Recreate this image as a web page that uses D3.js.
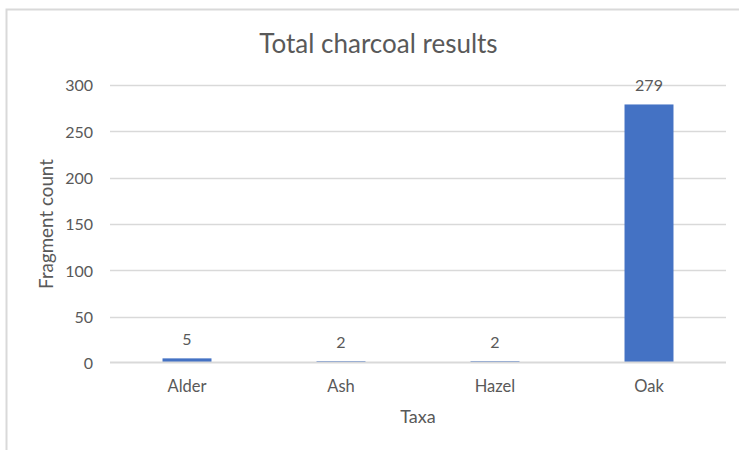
<!DOCTYPE html>
<html>
<head>
<meta charset="utf-8">
<script src="https://cdn.jsdelivr.net/npm/d3@7"></script>
<style>
  html, body { margin: 0; padding: 0; background: #fff; }
  svg { display: block; font-family: Lato, "Open Sans", sans-serif; }
</style>
</head>
<body>
<svg id="chart" width="739" height="450"></svg>
<script>
// Charcoal fragment counts by taxon
const taxa = ["Alder", "Ash", "Hazel", "Oak"];
const counts = [5, 2, 2, 279];
const yTicks = [0, 50, 100, 150, 200, 250, 300];

const svg = d3.select("#chart");
const textColor = "#595959";
const gridColor = "#d9d9d9";
const barColor = "#4472c4";

// chart frame
svg.append("rect")
  .attr("x", 6.5).attr("y", 9.5)
  .attr("width", 800).attr("height", 500)
  .attr("fill", "none").attr("stroke", gridColor).attr("stroke-width", 2);

const plot = { left: 110, right: 726, top: 85, bottom: 363 };

const x = d3.scaleBand()
  .domain(taxa)
  .range([plot.left, plot.right])
  .paddingInner(0.682)
  .paddingOuter(0.341);

const y = d3.scaleLinear()
  .domain([0, 300])
  .range([plot.bottom, plot.top]);

// horizontal gridlines (the zero line is drawn later, over the bars)
svg.append("g")
  .selectAll("line")
  .data(yTicks.filter(d => d !== 0))
  .join("line")
  .attr("x1", plot.left).attr("x2", plot.right)
  .attr("y1", d => Math.round(y(d)) + 0.5).attr("y2", d => Math.round(y(d)) + 0.5)
  .attr("stroke", gridColor).attr("stroke-width", 1.3);

// y tick labels
const yAxis = svg.append("g")
  .attr("transform", `translate(${plot.left - 17},0)`)
  .call(d3.axisLeft(y).tickValues(yTicks).tickSize(0).tickPadding(0));
yAxis.select(".domain").remove();
yAxis.selectAll("text")
  .attr("fill", textColor)
  .attr("font-size", 16)
  .attr("font-family", "Lato, sans-serif")
  .attr("dy", "0.36em");

// bars
svg.append("g")
  .selectAll("rect")
  .data(taxa)
  .join("rect")
  .attr("x", d => x(d))
  .attr("width", x.bandwidth())
  .attr("y", (d, i) => y(counts[i]))
  .attr("height", (d, i) => y(0) - y(counts[i]))
  .attr("fill", barColor);

// category axis line
svg.append("line")
  .attr("x1", plot.left).attr("x2", plot.right)
  .attr("y1", y(0) - 0.5).attr("y2", y(0) - 0.5)
  .attr("stroke", gridColor).attr("stroke-width", 2);

// value labels
svg.append("g")
  .selectAll("text")
  .data(taxa)
  .join("text")
  .attr("x", d => x(d) + x.bandwidth() / 2)
  .attr("y", (d, i) => y(counts[i]) - 13)
  .attr("text-anchor", "middle")
  .attr("fill", textColor)
  .attr("font-size", 16)
  .text((d, i) => counts[i]);

// x category labels
const xAxis = svg.append("g")
  .attr("transform", `translate(0,${plot.bottom})`)
  .call(d3.axisBottom(x).tickSize(0).tickPadding(0));
xAxis.select(".domain").remove();
xAxis.selectAll("text")
  .attr("fill", textColor)
  .attr("font-size", 16.5)
  .attr("font-family", "Lato, sans-serif")
  .attr("dy", null)
  .attr("y", 29);

// axis titles
svg.append("text")
  .attr("x", (plot.left + plot.right) / 2)
  .attr("y", 423)
  .attr("text-anchor", "middle")
  .attr("fill", textColor)
  .attr("font-size", 18)
  .text("Taxa");

svg.append("text")
  .attr("transform", `translate(53,${(plot.top + plot.bottom) / 2}) rotate(-90)`)
  .attr("text-anchor", "middle")
  .attr("fill", textColor)
  .attr("font-size", 18.8)
  .text("Fragment count");

// chart title
svg.append("text")
  .attr("x", 378.5)
  .attr("y", 52.5)
  .attr("text-anchor", "middle")
  .attr("fill", textColor)
  .attr("font-size", 26)
  .text("Total charcoal results");
</script>
</body>
</html>
